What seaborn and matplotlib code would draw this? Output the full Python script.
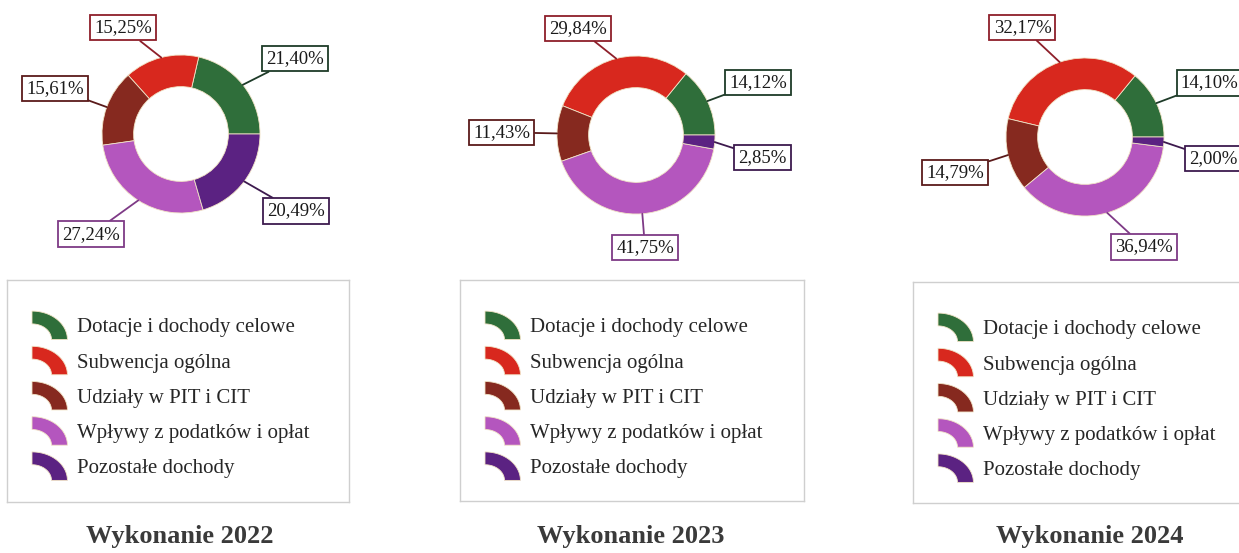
import numpy as np
import matplotlib
matplotlib.use("Agg")
import matplotlib.pyplot as plt
import seaborn as sns
from matplotlib.patches import Polygon, Wedge
from matplotlib.legend_handler import HandlerPatch

# ── data ──────────────────────────────────────────────────────────────────────
CATEGORIES = [
    "Dotacje i dochody celowe",
    "Subwencja ogólna",
    "Udziały w PIT i CIT",
    "Wpływy z podatków i opłat",
    "Pozostałe dochody",
]
YEARS = ["Wykonanie 2022", "Wykonanie 2023", "Wykonanie 2024"]
SHARES_2022 = [21.40, 15.25, 15.61, 27.24, 20.49]
SHARES_2023 = [14.12, 29.84, 11.43, 41.75, 2.85]
SHARES_2024 = [14.10, 32.17, 14.79, 36.94, 2.00]

# ── style ─────────────────────────────────────────────────────────────────────
FILL = ["#2F6E3A", "#D8281E", "#86291F", "#B456BE", "#5B2282"]
EDGE = ["#1E3B28", "#8E1F2A", "#5A1A1A", "#7E3A86", "#3D1A4E"]
TEXT = "#1a1a1a"

W, H = 1239, 553
R = 79                                  # donut outer radius in px
CENTERS = [(181, 134), (636, 135), (1085, 137)]
LEGEND_BOX = [(7, 280, 349, 502), (460, 280, 804, 501), (913, 282, 1265, 503)]
TITLE_X = [180, 631, 1090]

# label nudges (degrees from mid-angle, distance in radii)
LABEL_SHIFT = [[-5, 14, 0, -9, 3], [-2, 14, 0, 0, -5], [-2, 11, 2, 12, -6]]
LABEL_DIST = [[1.73, 1.53, 1.70, 1.70, 1.75],
              [1.68, 1.54, 1.70, 1.43, 1.63],
              [1.72, 1.60, 1.70, 1.58, 1.65]]

ICON_W, ICON_H = 25.5, 20.5             # legend icon size in points

sns.set_theme(style="white")
plt.rcParams["font.family"] = ["Liberation Serif", "DejaVu Serif"]


def quarter_ring(legend, orig_handle, xdescent, ydescent, width, height, fontsize):
    """Legend icon: quarter of a ring, centre at the bottom-left corner."""
    t = np.linspace(0, np.pi / 2, 30)
    x0 = -xdescent
    y0 = -ydescent + height / 2 - ICON_H / 2
    outer = np.column_stack([x0 + ICON_W * np.cos(t), y0 + ICON_H * np.sin(t)])
    inner = np.column_stack([x0 + 0.55 * ICON_W * np.cos(t[::-1]),
                             y0 + 0.55 * ICON_H * np.sin(t[::-1])])
    return Polygon(np.vstack([outer, inner]), closed=True)


def fmt(v):
    return f"{v:.2f}".replace(".", ",") + "%"


fig = plt.figure(figsize=(W / 100, H / 100), dpi=100)
fig.patch.set_facecolor("white")

all_shares = [SHARES_2022, SHARES_2023, SHARES_2024]

for i, shares in enumerate(all_shares):
    cx, cy = CENTERS[i]
    hx, hy = 2.3, 1.75
    ax = fig.add_axes([(cx - hx * R) / W, (H - cy - hy * R) / H,
                       2 * hx * R / W, 2 * hy * R / H])
    wedges, _ = ax.pie(
        shares, colors=FILL, startangle=0, counterclock=True, radius=1.0,
        wedgeprops=dict(width=0.4, edgecolor="#f1e3c6", linewidth=0.6),
    )
    ax.set_xlim(-hx, hx)
    ax.set_ylim(-hy, hy)
    ax.axis("off")

    # percentage labels with leader lines
    for j, w in enumerate(wedges):
        mid = np.deg2rad((w.theta1 + w.theta2) / 2)
        ang = mid + np.deg2rad(LABEL_SHIFT[i][j])
        d = LABEL_DIST[i][j]
        ax.annotate(
            fmt(shares[j]),
            xy=(np.cos(mid), np.sin(mid)),
            xytext=(d * np.cos(ang), d * np.sin(ang)),
            ha="center", va="center", fontsize=13.5, color=TEXT,
            bbox=dict(boxstyle="square,pad=0.22", fc="white",
                      ec=EDGE[j], lw=1.3),
            arrowprops=dict(arrowstyle="-", color=EDGE[j], lw=1.3,
                            shrinkA=0, shrinkB=0),
            annotation_clip=False,
        )

    # legend in its own framed box
    x1, y1, x2, y2 = LEGEND_BOX[i]
    lax = fig.add_axes([x1 / W, (H - y2) / H, (x2 - x1) / W, (y2 - y1) / H])
    lax.set_xticks([])
    lax.set_yticks([])
    for s in lax.spines.values():
        s.set_color("#cfcfcf")
        s.set_linewidth(1.0)
    lax.legend(
        wedges, CATEGORIES, loc="upper left",
        bbox_to_anchor=(25 / (x2 - x1), 1 - 36 / (y2 - y1)),
        frameon=False, fontsize=15, borderpad=0, borderaxespad=0,
        handlelength=1.7, handleheight=1.0, handletextpad=0.45,
        labelspacing=0.66,
        handler_map={Wedge: HandlerPatch(patch_func=quarter_ring)},
    )

    fig.text(TITLE_X[i] / W, 1 - 536 / H, YEARS[i], ha="center", va="center",
             fontsize=19, fontweight="bold", color="#3a3a3a")

fig.savefig("out.png", dpi=100)
plt.close(fig)
